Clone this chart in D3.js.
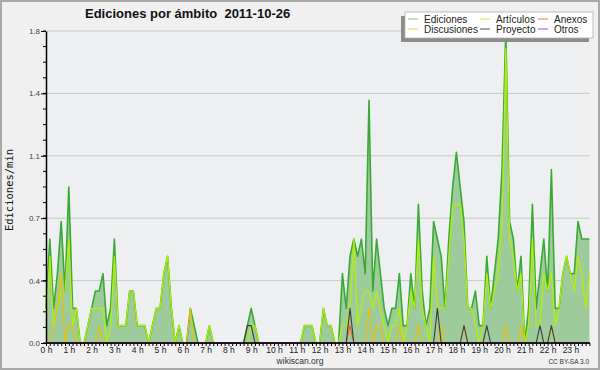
<!DOCTYPE html>
<html>
<head>
<meta charset="utf-8">
<script src="https://cdn.jsdelivr.net/npm/d3@7"></script>
<style>
body{margin:0;background:#f0f0f0;}
svg{display:block;}
text{font-family:"Liberation Sans",Arial,sans-serif;}
</style>
</head>
<body>
<div id="chart"></div>
<script>
/*Ediciones por ambito, una muestra cada 10 min*/
var horas=["0 h","1 h","2 h","3 h","4 h","5 h","6 h","7 h","8 h","9 h","10 h","11 h",
"12 h","13 h","14 h","15 h","16 h","17 h","18 h","19 h","20 h","21 h","22 h","23 h"];
var yTicks=[0,0.36,0.72,1.08,1.44,1.8];

var ediciones=[
0.2,0.6,0.2,0.4,0.7,0.3, 0.9,0.2,0.2,0,0,0.1,
0.2,0.3,0.3,0.4,0.1,0.2, 0.6,0.1,0.1,0.1,0.3,0.3,
0.1,0.1,0.1,0,0.1,0.2, 0.2,0.4,0.5,0.2,0,0.1,
0,0,0.2,0.1,0,0, 0,0.1,0,0,0,0,
0,0,0,0,0,0.1, 0.2,0.1,0,0,0,0,
0,0,0,0,0,0, 0,0,0.1,0.1,0.1,0,
0,0.2,0.1,0.1,0,0, 0.4,0.2,0.5,0.6,0.5,0.6,
0.4,1.4,0.3,0.6,0.4,0.2, 0.1,0.2,0.2,0.4,0.1,0.1,
0.4,0.2,0.8,0.3,0.1,0.2, 0.7,0.6,0.5,0.2,0.6,0.9,
1.1,0.9,0.7,0.2,0.2,0.3, 0.1,0.1,0.5,0.2,0.4,0.6,
1.0,1.8,0.7,0.6,0.3,0.5, 0,0.2,0.8,0.2,0.4,0.6,
0.3,1.0,0.2,0.2,0.4,0.5, 0.4,0.4,0.7,0.6,0.6,0.6];

var articulos=[
0.1,0.5,0.1,0.2,0.3,0.3, 0.6,0.1,0.2,0,0,0.1,
0.2,0.2,0.2,0.2,0,0.1, 0.5,0.1,0.1,0.1,0.3,0.3,
0.1,0.1,0.1,0,0.1,0.2, 0.2,0.4,0.5,0.2,0,0.1,
0,0,0,0,0,0, 0,0.1,0,0,0,0,
0,0,0,0,0,0, 0.1,0.1,0,0,0,0,
0,0,0,0,0,0, 0,0,0.1,0.1,0.1,0,
0,0.2,0.1,0.1,0,0, 0.1,0.1,0.2,0.6,0.1,0.2,
0.3,0.3,0.2,0.3,0.2,0.1, 0,0.1,0.1,0.2,0,0.1,
0.3,0.2,0.6,0.2,0.1,0, 0.5,0.2,0.2,0.2,0.5,0.8,
0.8,0.8,0.6,0.2,0.2,0.1, 0,0.1,0.4,0.2,0.3,0.4,
0.7,1.7,0.6,0.5,0.3,0.4, 0,0.1,0.6,0.1,0.1,0.4,
0.3,0.4,0.1,0.2,0.4,0.5, 0.4,0.3,0.5,0.4,0.2,0.4];

var discusiones=[
0,0,0.1,0.2,0.4,0, 0.1,0.1,0,0,0,0,
0,0,0.1,0,0,0, 0,0,0,0,0,0,
0,0,0,0,0,0, 0,0,0,0,0,0,
0,0,0.2,0,0,0, 0,0,0,0,0,0,
0,0,0,0,0,0, 0,0,0,0,0,0,
0,0,0,0,0,0, 0,0,0,0,0,0,
0,0,0,0,0,0, 0,0,0,0,0,0,
0,0.2,0,0.1,0.1,0, 0,0,0,0.1,0,0,
0,0,0.1,0,0,0, 0,0,0.1,0,0,0,
0,0,0.1,0,0,0, 0,0,0,0,0,0,
0,0.1,0,0,0,0.1, 0,0,0,0,0,0,
0,0.1,0,0,0,0, 0,0,0,0,0,0];

var proyecto=[
0,0,0,0,0,0, 0,0,0,0,0,0,
0,0,0,0,0,0, 0,0,0,0,0,0,
0,0,0,0,0,0, 0,0,0,0,0,0,
0,0,0,0,0,0, 0,0,0,0,0,0,
0,0,0,0,0,0.1, 0.1,0,0,0,0,0,
0,0,0,0,0,0, 0,0,0,0,0,0,
0,0,0,0,0,0, 0,0,0.2,0,0,0,
0,0,0,0,0,0, 0,0,0,0,0,0,
0,0,0,0,0,0, 0,0.2,0,0,0,0,
0,0,0.1,0,0,0, 0,0,0.1,0,0,0,
0,0,0,0,0,0, 0,0,0,0,0.1,0,
0,0.1,0,0,0,0, 0,0,0,0,0,0];

var anexos=[
0,0,0,0,0,0, 0,0,0,0,0,0,
0,0,0,0,0,0, 0,0,0,0,0,0,
0,0,0,0,0,0, 0,0,0,0,0,0,
0,0,0,0,0,0, 0,0,0,0,0,0,
0,0,0,0,0,0, 0,0,0,0,0,0,
0,0,0,0,0,0, 0,0,0,0,0,0,
0,0,0,0,0,0, 0,0,0.1,0,0,0,
0,0,0,0,0,0, 0,0,0,0,0,0,
0,0,0,0,0,0, 0,0,0,0,0,0,
0,0,0,0,0,0, 0,0,0,0,0,0,
0,0,0,0,0,0, 0,0,0,0,0,0,
0,0,0,0,0,0, 0,0,0,0,0,0];

var otros=[
0,0,0,0,0,0, 0,0,0,0,0,0,
0,0,0,0,0,0, 0,0,0,0,0,0,
0,0,0,0,0,0, 0,0,0,0,0,0,
0,0,0,0,0,0, 0,0,0,0,0,0,
0,0,0,0,0,0, 0,0,0,0,0,0,
0,0,0,0,0,0, 0,0,0,0,0,0,
0,0,0,0,0,0, 0,0,0,0,0,0,
0,0,0,0,0,0, 0,0,0,0,0,0,
0,0,0,0,0,0, 0,0,0,0,0,0,
0,0,0,0,0,0, 0,0,0,0,0,0,
0,0,0,0,0,0, 0,0,0,0,0,0,
0,0,0,0,0,0, 0,0,0,0,0,0];

var minutos=ediciones.map(function(d,i){return i*10;});

var margin={top:31,right:10,bottom:27,left:46},
W=600,H=370,
w=W-margin.left-margin.right,
h=H-margin.top-margin.bottom;

var root=d3.select("#chart").append("svg")
.attr("width",W).attr("height",H);

root.append("rect").attr("x",1).attr("y",1).attr("width",W-2).attr("height",H-2)
.attr("fill","#f0f0f0").attr("stroke","#a8a8a8").attr("stroke-width",2);

var svg=root.append("g")
.attr("transform",`translate(${margin.left},${margin.top})`);

var x=d3.scaleLinear().domain([0,1430]).range([0,w-0.6]);
var y=d3.scaleLinear().domain([0,1.8]).range([h,0]);

svg.append("rect").attr("width",w).attr("height",h).attr("fill","#eeeff1");

//grid
svg.selectAll(".grid").data(yTicks.slice(1)).enter()
.append("line").attr("class","grid")
.attr("x1",0).attr("x2",w)
.attr("y1",function(d){return y(d);}).attr("y2",function(d){return y(d);})
.attr("stroke","#c9c9c9").attr("stroke-width",1);

//area total
var area=d3.area()
.x(function(d,i){return x(minutos[i]);})
.y0(h).y1(function(d){return y(d);});
svg.append("path").datum(ediciones)
.attr("d",area).attr("fill","#9ecb9b");

var line=d3.line()
.x(function(d,i){return x(minutos[i]);})
.y(function(d){return y(d);});

var series=[
{name:"Ediciones",data:ediciones,color:"#3aaa36",lw:1.6,leg:"#8ad88a"},
{name:"Artículos",data:articulos,color:"#b4f000",lw:1.2,leg:"#d6f070"},
{name:"Discusiones",data:discusiones,color:"#f0c000",lw:1.1,leg:"#f8d870"},
{name:"Anexos",data:anexos,color:"#ff5a1e",lw:1.1,leg:"#f89060"},
{name:"Proyecto",data:proyecto,color:"#3a3a3a",lw:1.1,leg:"#707070"},
{name:"Otros",data:otros,color:"#9933ee",lw:1.1,leg:"#a070f0"}];

series.forEach(function(s){
svg.append("path").datum(s.data)
.attr("d",line).attr("fill","none")
.attr("stroke",s.color).attr("stroke-width",s.lw)
.attr("stroke-linejoin","round");
});

//axes
var yMinor=d3.range(0,1.8001,0.09);
svg.selectAll(".ymin").data(yMinor).enter()
.append("line").attr("x1",-3).attr("x2",0)
.attr("y1",function(d){return y(d);}).attr("y2",function(d){return y(d);})
.attr("stroke","#000");

var yAxis=svg.append("g")
.call(d3.axisLeft(y).tickValues(yTicks).tickSize(5).tickSizeOuter(0).tickPadding(1)
.tickFormat(d3.format(".1f")));
yAxis.select(".domain").attr("stroke","#000").attr("stroke-width",1.5);
yAxis.selectAll("text").style("font-size","8px").attr("fill","#444");

var xAxis=svg.append("g").attr("transform","translate(0,"+h+")")
.call(d3.axisBottom(x).tickValues(minutos).tickSize(3).tickSizeOuter(0).tickPadding(1)
.tickFormat(function(d){return d%60==0?horas[d/60]:"";}));
xAxis.select(".domain").attr("stroke","#000").attr("stroke-width",1.5)
.attr("d","M0,0H"+w);
xAxis.selectAll("text").style("font-size","8.5px").attr("fill","#222");

//y label
root.append("text")
.attr("transform","translate(12.5,190)rotate(-90)")
.attr("text-anchor","middle")
.style("font-family","'DejaVu Sans Mono',monospace")
.style("font-size","10.5px").attr("fill","#111")
.text("Ediciones/min");

//title
root.append("text").attr("x",85).attr("y",18)
.style("font-size","13px").style("font-weight","bold").attr("fill","#111")
.attr("xml:space","preserve")
.text("Ediciones por ámbito  2011-10-26");

//legend
var lg=root.append("g").attr("transform","translate(405,12)");
lg.append("rect").attr("x",-4).attr("y",4).attr("width",188).attr("height",26).attr("fill","#8c8c8c");
lg.append("rect").attr("width",188).attr("height",26).attr("fill","#fff")
.attr("stroke","#b0b0b0").attr("stroke-width",0.8);
var legPos=[[0,0],[72,0],[188,1],[0,1],[72,1],[133,1]];
var legOrder=[
{s:series[0],x:3,y:7},{s:series[1],x:75,y:7},{s:series[3],x:133,y:7},
{s:series[2],x:3,y:17},{s:series[4],x:75,y:17},{s:series[5],x:133,y:17}];
legOrder.forEach(function(o){
lg.append("line").attr("x1",o.x).attr("x2",o.x+10)
.attr("y1",o.y).attr("y2",o.y)
.attr("stroke",o.s.leg).attr("stroke-width",1.2);
lg.append("text").attr("x",o.x+16).attr("y",o.y+4)
.style("font-size","10px").attr("fill","#222").text(o.s.name);
});

//footer
root.append("text").attr("x",300).attr("y",364).attr("text-anchor","middle")
.style("font-size","8.5px").attr("fill","#333").text("wikiscan.org");
root.append("text").attr("x",589).attr("y",364).attr("text-anchor","end")
.style("font-size","6.5px").attr("fill","#333").text("CC BY-SA 3.0");
</script>
</body>
</html>
